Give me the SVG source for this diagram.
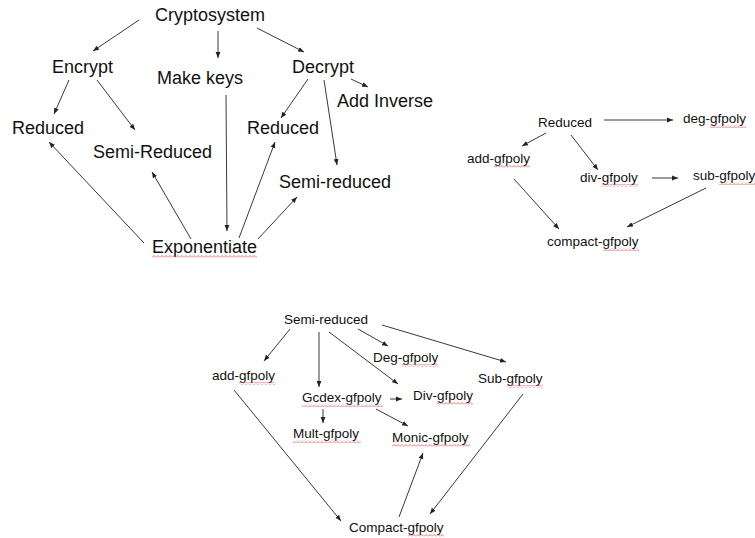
<svg xmlns="http://www.w3.org/2000/svg" width="755" height="538" viewBox="0 0 755 538">
<style>
text{font-family:"Liberation Sans",Arial,sans-serif;fill:#111}
.big{font-size:18px}
.sm{font-size:13.5px}
.c line{stroke:#222;stroke-width:0.9;marker-end:url(#ah)}
.sq{fill:url(#wave)}
</style>
<defs>
<marker id="ah" markerUnits="userSpaceOnUse" markerWidth="6" markerHeight="6" refX="6" refY="3" orient="auto">
<path d="M0,0.6 L6,3 L0,5.4 z" fill="#222"/>
</marker>
<pattern id="wave" patternUnits="userSpaceOnUse" width="4" height="3">
<path d="M0,2.5 L2,0.5 L4,2.5" fill="none" stroke="#e05050" stroke-width="0.8"/>
</pattern>
</defs>
<rect width="755" height="538" fill="#fff"/>

<!-- top diagram -->
<g id="cryptosystem"><text class="big" x="155" y="21">Cryptosystem</text></g>
<g id="encrypt"><text class="big" x="52" y="73">Encrypt</text></g>
<g id="makekeys"><text class="big" x="157" y="84">Make keys</text></g>
<g id="decrypt"><text class="big" x="292" y="73">Decrypt</text></g>
<g id="addinverse"><text class="big" x="337" y="107">Add Inverse</text></g>
<g id="reduced1"><text class="big" x="12" y="134">Reduced</text></g>
<g id="semireduced1"><text class="big" x="93" y="158">Semi-Reduced</text></g>
<g id="reduced2"><text class="big" x="247" y="134">Reduced</text></g>
<g id="semireduced2"><text class="big" x="279" y="188">Semi-reduced</text></g>
<g id="exponentiate"><text class="big" x="152" y="253">Exponentiate</text><rect class="sq" x="152" y="255" width="105" height="3"/></g>

<!-- right diagram -->
<g id="r-reduced"><text class="sm" x="538" y="127">Reduced</text></g>
<g id="r-deg"><text class="sm" x="683" y="123">deg-gfpoly</text><rect class="sq" x="710" y="125" width="36" height="3"/></g>
<g id="r-add"><text class="sm" x="467" y="163">add-gfpoly</text><rect class="sq" x="494" y="165" width="36" height="3"/></g>
<g id="r-div"><text class="sm" x="580" y="182">div-gfpoly</text><rect class="sq" x="602" y="184" width="36" height="3"/></g>
<g id="r-sub"><text class="sm" x="693" y="180">sub-gfpoly</text><rect class="sq" x="719" y="182" width="36" height="3"/></g>
<g id="r-compact"><text class="sm" x="547" y="246">compact-gfpoly</text><rect class="sq" x="603" y="248" width="36" height="3"/></g>

<!-- bottom diagram -->
<g id="b-semireduced"><text class="sm" x="284" y="324">Semi-reduced</text></g>
<g id="b-deg"><text class="sm" x="373" y="362">Deg-gfpoly</text><rect class="sq" x="402" y="364" width="36" height="3"/></g>
<g id="b-add"><text class="sm" x="212" y="380">add-gfpoly</text><rect class="sq" x="239" y="382" width="36" height="3"/></g>
<g id="b-sub"><text class="sm" x="478" y="383">Sub-gfpoly</text><rect class="sq" x="507" y="385" width="36" height="3"/></g>
<g id="b-gcdex"><text class="sm" x="302" y="402">Gcdex-gfpoly</text><rect class="sq" x="302" y="404" width="81" height="3"/></g>
<g id="b-div"><text class="sm" x="413" y="400">Div-gfpoly</text><rect class="sq" x="437" y="402" width="36" height="3"/></g>
<g id="b-mult"><text class="sm" x="293" y="438">Mult-gfpoly</text><rect class="sq" x="293" y="440" width="68" height="3"/></g>
<g id="b-monic"><text class="sm" x="392" y="442">Monic-gfpoly</text><rect class="sq" x="392" y="444" width="78" height="3"/></g>
<g id="b-compact"><text class="sm" x="349" y="532">Compact-gfpoly</text><rect class="sq" x="408" y="534" width="36" height="3"/></g>

<g id="connectors" class="c">
<line x1="139" y1="20" x2="93" y2="51"/>
<line x1="218" y1="31" x2="218" y2="58"/>
<line x1="257" y1="28" x2="304" y2="52"/>
<line x1="69" y1="80" x2="54" y2="114"/>
<line x1="97" y1="80" x2="135" y2="130"/>
<line x1="226" y1="95" x2="227" y2="231"/>
<line x1="308" y1="79" x2="281" y2="118"/>
<line x1="324" y1="80" x2="337" y2="165"/>
<line x1="351" y1="79" x2="368" y2="87"/>
<line x1="144" y1="243" x2="49" y2="142"/>
<line x1="191" y1="239" x2="152" y2="172"/>
<line x1="239" y1="238" x2="275" y2="142"/>
<line x1="258" y1="239" x2="297" y2="197"/>

<line x1="604" y1="120" x2="673" y2="120"/>
<line x1="546" y1="133" x2="522" y2="146"/>
<line x1="571" y1="135" x2="598" y2="170"/>
<line x1="652" y1="178" x2="678" y2="178"/>
<line x1="514" y1="179" x2="559" y2="229"/>
<line x1="706" y1="188" x2="627" y2="227"/>

<line x1="290" y1="329" x2="264" y2="361"/>
<line x1="319" y1="332" x2="319" y2="387"/>
<line x1="329" y1="332" x2="398" y2="384"/>
<line x1="358" y1="329" x2="388" y2="346"/>
<line x1="382" y1="325" x2="506" y2="362"/>
<line x1="390" y1="399" x2="402" y2="399"/>
<line x1="323" y1="409" x2="323" y2="423"/>
<line x1="376" y1="409" x2="408" y2="426"/>
<line x1="234" y1="390" x2="341" y2="521"/>
<line x1="399" y1="517" x2="423" y2="453"/>
<line x1="523" y1="394" x2="430" y2="514"/>
</g>
</svg>
